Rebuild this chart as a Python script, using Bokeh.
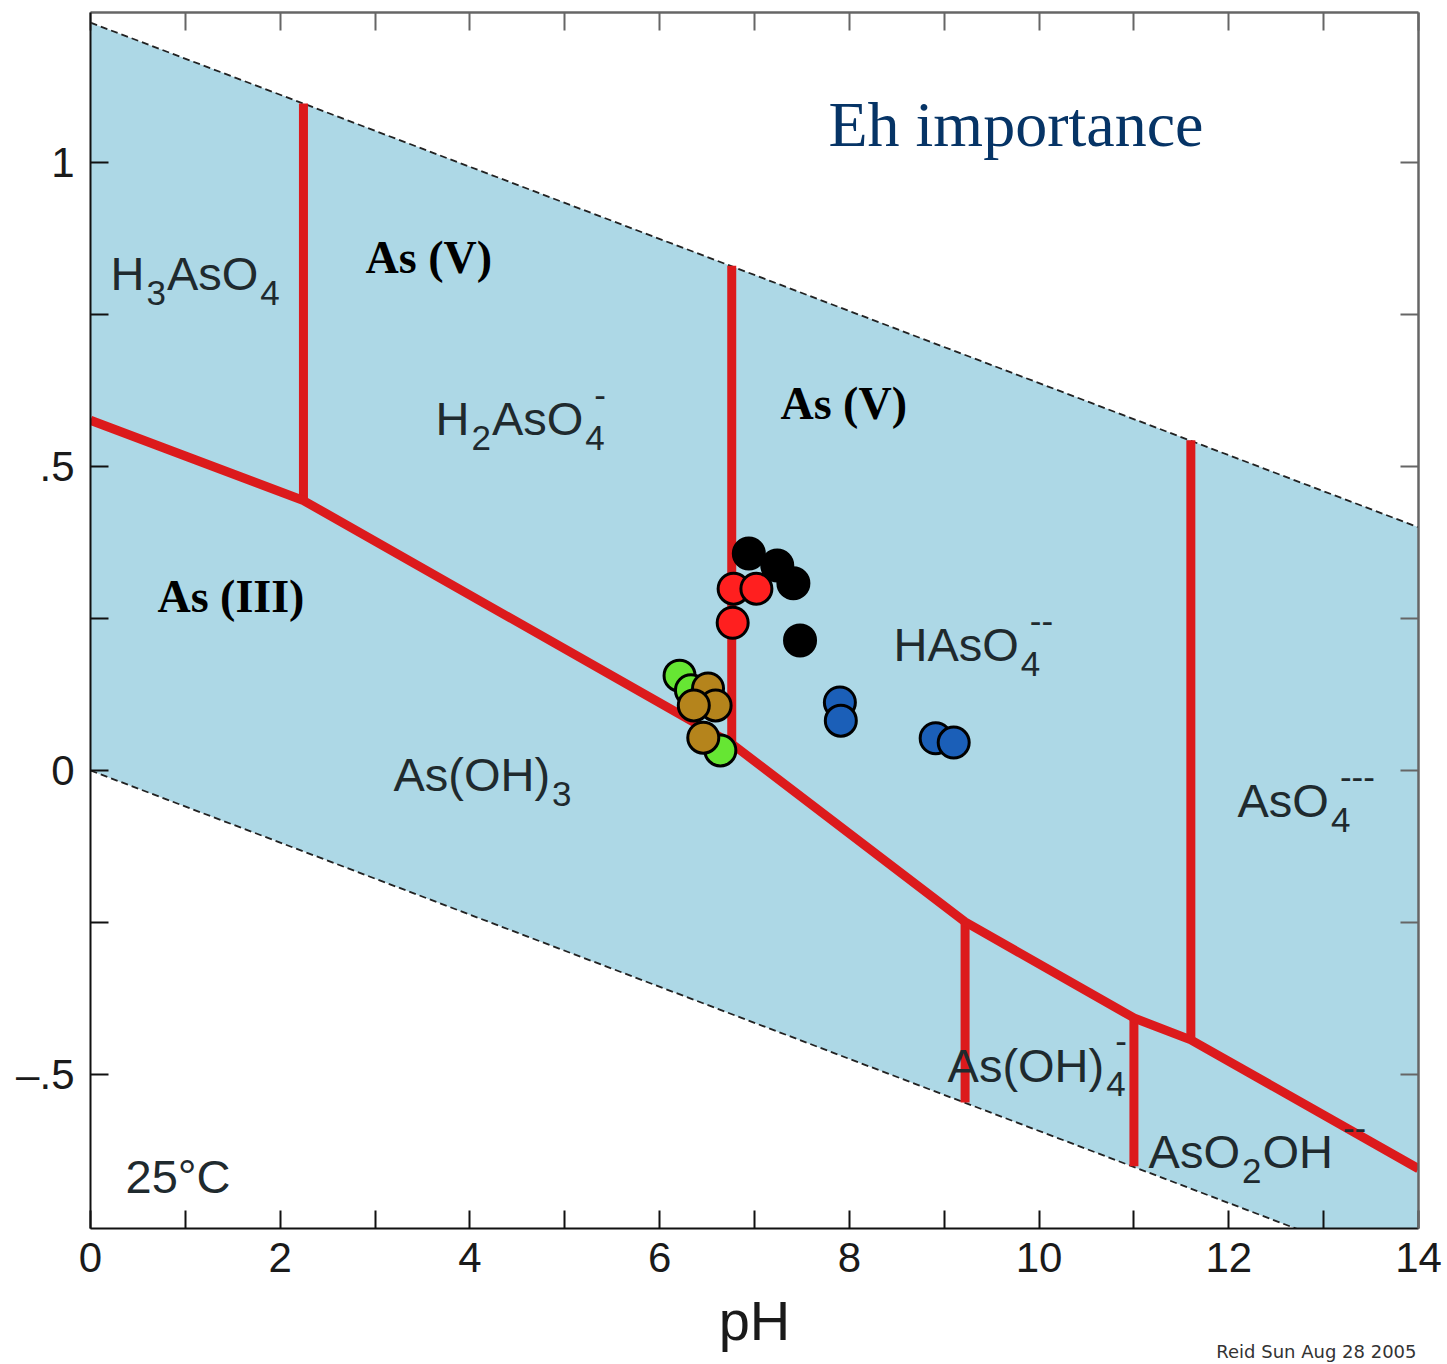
from bokeh.plotting import figure
from bokeh.models import Range1d, LinearAxis, FixedTicker, ColumnDataSource, Label, Title
from bokeh.embed import file_html
from bokeh.resources import INLINE
from bokeh.core.properties import value

# Water stability field (pH 0 and pH 14 end points)
water_ph = [0.0, 14.0]
o2_limit_eh = [1.23, 0.40]
h2_limit_eh = [0.0, -0.83]

# As(V) / As(III) redox boundary
redox_ph = [0.0, 2.245, 6.76, 9.22, 11.0, 11.6, 14.0]
redox_eh = [0.576, 0.444, 0.044, -0.249, -0.407, -0.443, -0.655]

# Acid-base boundaries between arsenic species
pka_ph = [2.245, 6.76, 11.6, 9.22, 11.0]
pka_eh_low = [0.444, 0.044, -0.443, -0.546, -0.651]
pka_eh_high = [1.097, 0.830, 0.543, -0.249, -0.407]

# Measured groundwater samples (pH, Eh in volts), one list per site
black_ph = [6.94, 7.24, 7.41, 7.48]
black_eh = [0.357, 0.337, 0.308, 0.214]
red_ph = [6.78, 7.02, 6.77]
red_eh = [0.299, 0.299, 0.243]
green_ph = [6.21, 6.33, 6.64]
green_eh = [0.156, 0.132, 0.033]
brown_ph = [6.51, 6.59, 6.36, 6.46]
brown_eh = [0.135, 0.107, 0.107, 0.054]
blue_ph = [7.90, 7.91, 8.91, 9.10]
blue_eh = [0.112, 0.082, 0.053, 0.046]

# Species names: pieces are (text, kind) with n = normal, b = subscript, p = superscript
species_parts = [
    [("H", "n"), ("3", "b"), ("AsO", "n"), ("4", "b")],
    [("H", "n"), ("2", "b"), ("AsO", "n"), ("4", "b"), ("-", "p")],
    [("HAsO", "n"), ("4", "b"), ("--", "p")],
    [("As(OH)", "n"), ("3", "b")],
    [("AsO", "n"), ("4", "b"), ("---", "p")],
    [("As(OH)", "n"), ("4", "b"), ("-", "p")],
    [("AsO", "n"), ("2", "b"), ("OH", "n"), ("--", "p")],
    [("25°C", "n")],
]
species_x = [0.211, 3.637, 8.465, 3.194, 12.092, 9.035, 11.154, 0.369]
species_y = [0.789, 0.551, 0.178, -0.036, -0.078, -0.513, -0.655, -0.696]

# Oxidation-state labels
state_text = ["As (V)", "As (V)", "As (III)"]
state_x = [2.90, 7.274, 0.706]
state_y = [0.816, 0.576, 0.258]

x_major = [0, 2, 4, 6, 8, 10, 12, 14]
x_minor = [1, 3, 5, 7, 9, 11, 13]
y_major = [-0.5, 0.0, 0.5, 1.0]
y_minor = [-0.25, 0.25, 0.75]
y_labels = {-0.5: "–.5", 0.0: "0", 0.5: ".5", 1.0: "1"}

# Helvetica/Arial advance widths (per 1000 em) used to lay out sub/superscripts
ADV = {"H": 722, "A": 667, "s": 500, "O": 778, "(": 333, ")": 333, "C": 722,
       "°": 400, "-": 333, " ": 278}
for d in "0123456789":
    ADV[d] = 556

MAIN_PX = 47
SMALL_PX = 35
BASE_SHIFT = 0.37  # lift applied so the glyph baseline sits on the anchor


def advance(s, px):
    return sum(ADV[c] for c in s) * px / 1000.0


cols = dict(x=[], y=[], text=[], xo=[], yo=[], fs=[])
for parts, lx, ly in zip(species_parts, species_x, species_y):
    cur = 0.0
    last_sub = None
    prev = None
    for txt, kind in parts:
        if kind == "n":
            xo, yo, px = cur, 0, MAIN_PX
            cur += advance(txt, MAIN_PX)
        elif kind == "b":
            xo, yo, px = cur + 2, 15, SMALL_PX
            last_sub = cur + 2
            cur += advance(txt, SMALL_PX) + 3
        else:
            xo = (last_sub + 9) if prev == "b" else (cur + 10)
            yo, px = -28, SMALL_PX
        cols["x"].append(lx)
        cols["y"].append(ly)
        cols["text"].append(txt)
        cols["xo"].append(xo)
        cols["yo"].append(yo - BASE_SHIFT * px)
        cols["fs"].append(f"{px}px")
        prev = kind
species_src = ColumnDataSource(cols)

p = figure(width=1447, height=1364,
           x_range=Range1d(0, 14), y_range=Range1d(-0.7533, 1.2467),
           output_backend="svg", toolbar_location=None,
           min_border_left=90, min_border_right=29,
           min_border_top=12, min_border_bottom=136,
           background_fill_color="white", border_fill_color="white")
p.outline_line_color = None
p.xgrid.visible = False
p.ygrid.visible = False

# stability field and water limits
p.varea(x=water_ph, y1=h2_limit_eh, y2=o2_limit_eh, fill_color="#add8e6")
p.line(water_ph, o2_limit_eh, line_color="#222222", line_width=1.8, line_dash="7 4")
p.line(water_ph, h2_limit_eh, line_color="#222222", line_width=1.8, line_dash="7 4")

# species boundaries
RED = "#dc1a1c"
p.segment(x0=pka_ph, y0=pka_eh_low, x1=pka_ph, y1=pka_eh_high,
          line_color=RED, line_width=9)
p.line(redox_ph, redox_eh, line_color=RED, line_width=9, line_join="round")

# samples
for xs, ys, c in [(black_ph, black_eh, "#000000"),
                  (red_ph, red_eh, "#ff1f1f"),
                  (green_ph, green_eh, "#66e633"),
                  (brown_ph, brown_eh, "#b5841c"),
                  (blue_ph, blue_eh, "#1b5fb8")]:
    p.scatter(xs, ys, size=31, fill_color=c, line_color="black", line_width=3)

# labels
p.text(x="x", y="y", text="text", x_offset="xo", y_offset="yo",
       text_font_size="fs", source=species_src,
       text_font=value("Liberation Sans"), text_color="#1f2a2e",
       text_align="left", text_baseline="alphabetic")
p.text(x=state_x, y=state_y, text=state_text, y_offset=-BASE_SHIFT * 46,
       text_font=value("Liberation Serif"), text_font_style="bold",
       text_font_size="46px", text_color="black",
       text_align="left", text_baseline="alphabetic")

p.add_layout(Label(x=7.78, y=1.062, text="Eh importance",
                   text_font="Liberation Serif", text_font_size="64px",
                   text_color="#063466", text_baseline="alphabetic"))

# axes
def style_axis(ax, color, width):
    ax.axis_line_color = color
    ax.axis_line_width = width
    ax.major_tick_line_color = color
    ax.minor_tick_line_color = color
    ax.major_tick_line_width = 2
    ax.minor_tick_line_width = 2
    ax.major_tick_in = 18
    ax.major_tick_out = 0
    ax.minor_tick_in = 18
    ax.minor_tick_out = 0


xb = p.xaxis[0]
xb.ticker = FixedTicker(ticks=x_major, minor_ticks=x_minor)
style_axis(xb, "#111111", 2)
xb.major_label_text_font = "Liberation Sans"
xb.major_label_text_font_size = "42px"
xb.major_label_text_color = "#1a1a1a"
xb.major_label_standoff = 14
xb.axis_label = "pH"
xb.axis_label_text_font = "Liberation Sans"
xb.axis_label_text_font_style = "normal"
xb.axis_label_text_font_size = "56px"
xb.axis_label_text_color = "#1a1a1a"
xb.axis_label_standoff = 14

yl = p.yaxis[0]
yl.ticker = FixedTicker(ticks=y_major, minor_ticks=y_minor)
style_axis(yl, "#111111", 2)
yl.major_label_overrides = y_labels
yl.major_label_text_font = "Liberation Sans"
yl.major_label_text_font_size = "42px"
yl.major_label_text_color = "#1a1a1a"
yl.major_label_standoff = 16

# frame ticks on the top and right edges (no labels)
for loc, ticks in [("above", x_major + x_minor), ("right", y_major + y_minor)]:
    ax = LinearAxis(ticker=FixedTicker(ticks=[], minor_ticks=sorted(ticks)))
    style_axis(ax, "#666666", 2.5)
    ax.major_label_standoff = 0
    p.add_layout(ax, loc)

# credit line under the axis, right aligned
credit = Title(text="Reid Sun Aug 28 2005", align="right", vertical_align="top",
               offset=2, standoff=-28, text_font="DejaVu Sans",
               text_font_size="18px", text_font_style="normal",
               text_color="#333333")
p.add_layout(credit, "below")

open("out.html", "w").write(file_html(p, INLINE))
